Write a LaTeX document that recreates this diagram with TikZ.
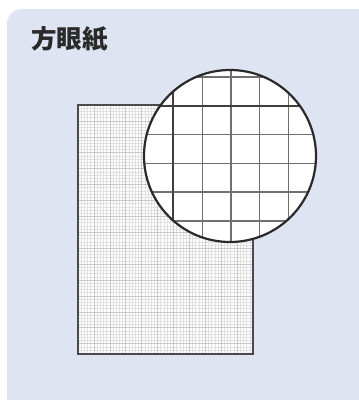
\documentclass[tikz,border=0pt]{standalone}
\usepackage{fontspec}
\newfontfamily\jpfont{Noto Sans CJK JP}
\definecolor{panelbg}{HTML}{DFE4F2}
\definecolor{inkdark}{HTML}{2B2A2A}
\definecolor{gridfine}{HTML}{E0E0E0}
\definecolor{gridfive}{HTML}{C8C8C8}
\definecolor{gridmid}{HTML}{707070}

\begin{document}
\begin{tikzpicture}[x=1pt,y=-1pt]
	\useasboundingbox (0,0) rectangle (359,400);
	\fill[panelbg, rounded corners=15pt] (7,9) rectangle (372,414);
	\node[anchor=west, inner sep=0pt, text=inkdark, font=\jpfont\bfseries\fontsize{25.5}{25.5}\selectfont] (title) at (31,39) {方眼紙};
	% sheet of squared paper
	\fill[white] (78,105) rectangle (253,354);
	\begin{scope}
		\clip (78,105) rectangle (253,354);
		\foreach \i in {1,...,54} {\draw[gridfine, line width=0.5pt] ({78+\i*175/55},105) -- ({78+\i*175/55},354);}
		\foreach \j in {1,...,78} {\draw[gridfine, line width=0.5pt] (78,{105+\j*175/55}) -- (253,{105+\j*175/55});}
		\foreach \i in {5,10,...,50} {\draw[gridfive, line width=0.5pt] ({78+\i*175/55},105) -- ({78+\i*175/55},354);}
		\foreach \j in {5,10,...,75} {\draw[gridfive, line width=0.5pt] (78,{105+\j*175/55}) -- (253,{105+\j*175/55});}
	\end{scope}
	\draw[inkdark!85, line width=1.5pt] (78,105) rectangle (253,354);
	% magnifier
	\fill[white] (230,156) circle (86);
	\begin{scope}
		\clip (230,156) circle (86);
		\foreach \x in {202.2,231,259.8,288.7} {\draw[gridmid, line width=1.3pt] (\x,60) -- (\x,250);}
		\foreach \y in {76.9,134.5,163.3,192.1,220.9} {\draw[gridmid, line width=1.3pt] (140,\y) -- (320,\y);}
		\draw[inkdark!90, line width=2pt] (173.3,60) -- (173.3,250);
		\draw[inkdark!90, line width=2pt] (140,105.7) -- (320,105.7);
	\end{scope}
	\draw[inkdark, line width=2.2pt] (230,156) circle (86);
\end{tikzpicture}
\end{document}
